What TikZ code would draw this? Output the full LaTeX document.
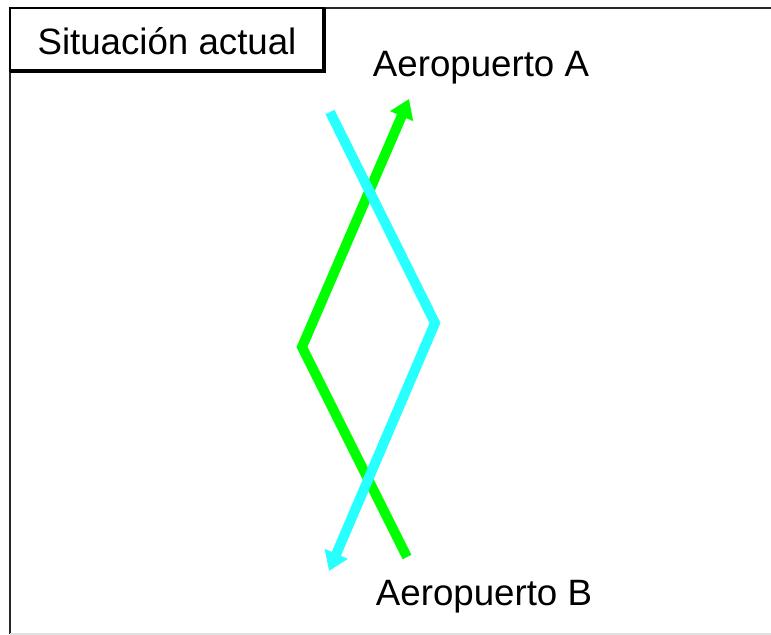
\documentclass[tikz,border=0pt]{standalone}
\usepackage{fontspec}
\setmainfont{Liberation Sans}
\usetikzlibrary{arrows.meta}
\definecolor{routegreen}{RGB}{0,255,0}
\definecolor{routecyan}{RGB}{40,255,255}
\tikzset{
  route/.style={line width=7.5pt, line join=miter},
  routetip/.style={-{Triangle[width=18pt,length=14pt]}},
  lbl/.style={font=\fontsize{27.5pt}{33pt}\selectfont, inner sep=0pt, text=black},
}
\begin{document}
\begin{tikzpicture}[x=0.75pt,y=-0.75pt]
\useasboundingbox (0,0) rectangle (771,635);
\fill[white] (0,0) rectangle (771,635);
% outer frame
\draw[line width=1.8pt, black!85] (10,634) -- (10,8) -- (771,8);
\draw[line width=1pt, black!12] (10,634) -- (771,634);
% title box
\draw[line width=1.5pt] (10,8) rectangle (324,71);
\draw[line width=2.6pt] (324,8) -- (324,71) -- (10,71);
\node[lbl] (title) at (167,41) {Situación actual};
% airport labels
\node[lbl] (apA) at (481,68) {Aeropuerto A};
\node[lbl] (apB) at (484,597) {Aeropuerto B};
% green route (B -> A)
\coordinate (g1) at (407,557);
\coordinate (g2) at (302,347);
\coordinate (g3) at (409,99);
\draw[route, routegreen, routetip] (g1) -- (g2) -- (g3);
% cyan route (A -> B), drawn on top
\coordinate (c1) at (330,112);
\coordinate (c2) at (435,323);
\coordinate (c3) at (329,571);
\draw[route, routecyan, routetip] (c1) -- (c2) -- (c3);
\end{tikzpicture}
\end{document}
